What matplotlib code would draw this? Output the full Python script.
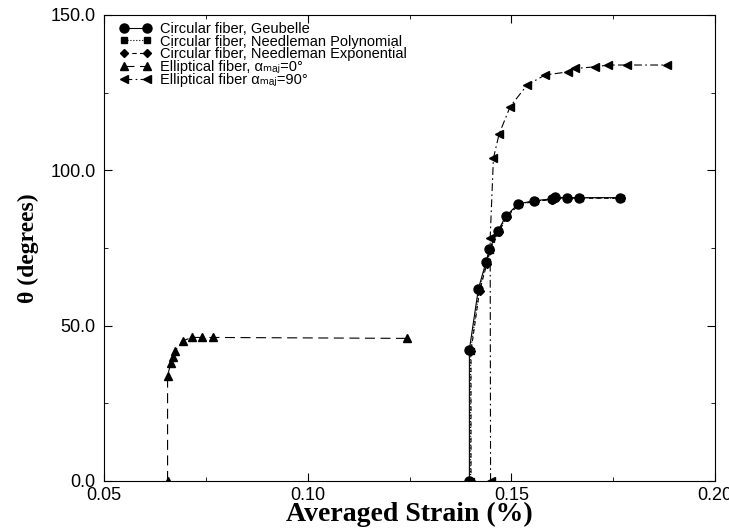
import matplotlib
matplotlib.use("Agg")
import matplotlib.pyplot as plt
from matplotlib.ticker import MultipleLocator, FormatStrFormatter

# values
strain_geubelle = [0.1397, 0.1397, 0.1419, 0.1438, 0.1446, 0.1467, 0.1487, 0.1517, 0.1556, 0.1599, 0.1607, 0.1636, 0.1667, 0.1767]
theta_geubelle = [0.0, 42.3, 61.8, 70.6, 74.6, 80.5, 85.3, 89.2, 90.2, 90.8, 91.3, 91.2, 91.2, 91.2]

strain_poly = [0.1400, 0.1400, 0.1421, 0.1439, 0.1447, 0.1468, 0.1488, 0.1518, 0.1557, 0.1600, 0.1608, 0.1637, 0.1668, 0.1768]
theta_poly = [0.0, 42.0, 61.5, 70.3, 74.4, 80.3, 85.1, 89.1, 90.1, 90.7, 91.2, 91.1, 91.1, 91.1]

strain_exp = [0.1401, 0.1401, 0.1422, 0.1440, 0.1448, 0.1469, 0.1489, 0.1519, 0.1558, 0.1601, 0.1609, 0.1638, 0.1669, 0.1768]
theta_exp = [0.0, 41.8, 61.2, 70.0, 74.2, 80.1, 85.0, 89.0, 90.0, 90.6, 91.1, 91.0, 91.0, 91.0]

strain_ell0 = [0.0656, 0.0656, 0.0664, 0.0670, 0.0675, 0.0693, 0.0715, 0.0741, 0.0768, 0.1243]
theta_ell0 = [0.0, 33.9, 37.9, 39.8, 41.9, 45.1, 46.2, 46.2, 46.2, 45.9]

strain_ell90 = [0.1449, 0.1448, 0.1456, 0.1470, 0.1497, 0.1539, 0.1583, 0.1640, 0.1656, 0.1705, 0.1738, 0.1783, 0.1882]
theta_ell90 = [0.0, 78.1, 103.9, 111.7, 120.5, 127.5, 130.7, 131.7, 132.8, 133.3, 133.9, 133.9, 133.9]

plt.rcParams['font.family'] = ['Liberation Sans', 'DejaVu Sans']

fig = plt.figure(figsize=(7.29, 5.30), dpi=100)
ax = fig.add_axes([0.1427, 0.0925, 0.8381, 0.8792])

lw = 0.8
ax.plot(strain_geubelle, theta_geubelle, color='k', lw=lw, ls='-', marker='o', ms=6.5,
        label="Circular fiber, Geubelle")
ax.plot(strain_poly, theta_poly, color='k', lw=lw, ls=':', marker='s', ms=5,
        label="Circular fiber, Needleman Polynomial")
ax.plot(strain_exp, theta_exp, color='k', lw=lw, ls=(0, (4, 3)), marker='D', ms=4.5,
        label="Circular fiber, Needleman Exponential")
ax.plot(strain_ell0, theta_ell0, color='k', lw=lw, ls=(0, (9, 5)), marker='^', ms=5.5,
        label="Elliptical fiber, αₘₐⱼ=0°")
ax.plot(strain_ell90, theta_ell90, color='k', lw=lw, ls=(0, (7, 3, 1.5, 3)), marker='<', ms=5.5,
        label="Elliptical fiber αₘₐⱼ=90°")

ax.set_xlim(0.05, 0.20)
ax.set_ylim(0, 150)
ax.xaxis.set_major_locator(MultipleLocator(0.05))
ax.xaxis.set_minor_locator(MultipleLocator(0.025))
ax.yaxis.set_major_locator(MultipleLocator(50))
ax.yaxis.set_minor_locator(MultipleLocator(25))
ax.xaxis.set_major_formatter(FormatStrFormatter('%.2f'))
ax.yaxis.set_major_formatter(FormatStrFormatter('%.1f'))
ax.tick_params(which='both', direction='in', top=True, right=True, labelsize=13)
ax.tick_params(axis='x', pad=4)
ax.tick_params(axis='y', pad=6)
ax.tick_params(which='major', length=6)
ax.tick_params(which='minor', length=3)

ax.set_xlabel("Averaged Strain (%)", family='Liberation Serif', fontweight='bold', fontsize=20, labelpad=-1)
ax.set_ylabel("θ (degrees)", family='Liberation Serif', fontweight='bold', fontsize=17, labelpad=8)

ax.legend(loc='upper left', bbox_to_anchor=(0.016, 0.998), frameon=False, fontsize=10.5,
          numpoints=2, handlelength=2.2, handletextpad=0.6, labelspacing=-0.08, borderaxespad=0)

fig.savefig("out.png", dpi=100)
